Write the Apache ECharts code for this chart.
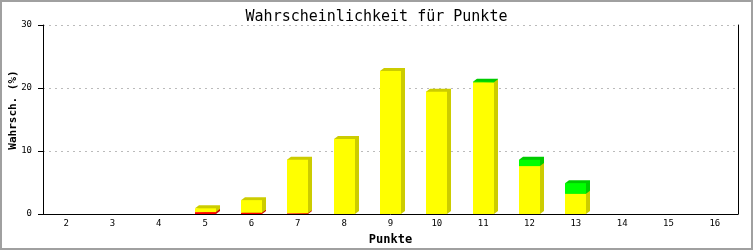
<!DOCTYPE html>
<html>
<head>
<meta charset="utf-8">
<script src="https://cdn.jsdelivr.net/npm/echarts@6/dist/echarts.min.js"></script>
<style>html,body{margin:0;padding:0;background:#fff}#c{width:753px;height:250px}</style>
</head>
<body>
<div id="c"></div>
<script>
const categories = ['2','3','4','5','6','7','8','9','10','11','12','13','14','15','16'];
const redValues    = [0, 0, 0, 0.3, 0.2, 0.1, 0, 0, 0, 0, 0, 0, 0, 0, 0];
const yellowValues = [0, 0, 0, 0.6, 2.0, 8.5, 11.9, 22.7, 19.4, 20.9, 7.6, 3.2, 0, 0, 0];
const greenValues  = [0, 0, 0, 0, 0, 0, 0, 0, 0, 0.1, 1.0, 1.7, 0, 0, 0];
const yTicks = [0, 10, 20, 30];

const layers = [
  {name: 'rot',  vals: redValues,    front: '#FF0000', shade: '#CC0000'},
  {name: 'gelb', vals: yellowValues, front: '#FFFF00', shade: '#CCCC00'},
  {name: 'grün', vals: greenValues,  front: '#00FF00', shade: '#00CC00'}
];

function makeRender(front, shade) {
  return function (params, api) {
    const i = api.value(0), base = api.value(1), v = api.value(2);
    if (!v) return null;
    const p0 = api.coord([i, base]);
    const p1 = api.coord([i, base + v]);
    const w = api.size([1, 0])[0] * 0.46;
    const x0 = Math.round(p0[0] - w / 2), x1 = x0 + Math.round(w);
    const yb = p0[1], yt = p1[1];
    const dx = 4, dy = 3;
    return {
      type: 'group',
      children: [
        {type: 'polygon', shape: {points: [[x0, yt], [x0 + dx, yt - dy], [x1 + dx, yt - dy], [x1 + dx, yb - dy], [x1, yb]]},
         style: {fill: shade}},
        {type: 'rect', shape: {x: x0, y: yt, width: x1 - x0, height: yb - yt}, style: {fill: front}}
      ]
    };
  };
}

const series = [];
layers.forEach((L, li) => {
  const data = categories.map((c, i) => {
    let base = 0;
    for (let k = 0; k < li; k++) base += layers[k].vals[i];
    return [i, base, L.vals[i]];
  });
  series.push({
    type: 'custom', name: L.name, renderItem: makeRender(L.front, L.shade),
    data: data, encode: {x: 0, y: [1, 2]}, z: 2 + li
  });
});

const mono = '"DejaVu Sans Mono", "Liberation Mono", monospace';
const chart = echarts.init(document.getElementById('c'), null, {renderer: 'canvas'});
chart.setOption({
  animation: false,
  backgroundColor: '#fff',
  title: {text: 'Wahrscheinlichkeit für Punkte', left: 'center', top: 5,
    textStyle: {fontFamily: mono, fontSize: 15, fontWeight: 'normal', color: '#000'}},
  grid: {left: 43, right: 15, top: 25, bottom: 36, containLabel: false, outerBoundsMode: 'none'},
  xAxis: {
    type: 'category', data: categories, boundaryGap: true,
    name: 'Punkte', nameLocation: 'middle', nameGap: 20,
    nameTextStyle: {fontFamily: mono, fontSize: 12, fontWeight: 'bold', color: '#000'},
    axisLine: {lineStyle: {color: '#000', width: 1}},
    axisTick: {show: false},
    axisLabel: {fontFamily: mono, fontSize: 9, color: '#000', margin: 5}
  },
  yAxis: [{
    type: 'value', min: yTicks[0], max: yTicks[yTicks.length - 1], interval: 10,
    axisLine: {show: true, lineStyle: {color: '#000', width: 1}},
    axisTick: {show: true, length: 5, lineStyle: {color: '#000'}},
    axisLabel: {fontFamily: mono, fontSize: 9, color: '#000', margin: 11},
    splitLine: {show: true, lineStyle: {color: '#bbbbbb', type: [2, 4], width: 1}}
  }, {
    type: 'value', min: 0, max: 30, interval: 10, position: 'right',
    axisLine: {show: true, lineStyle: {color: '#000', width: 1}},
    axisTick: {show: false}, axisLabel: {show: false}, splitLine: {show: false}
  }],
  graphic: [
    {type: 'text', x: 13, y: 110, rotation: Math.PI / 2,
     style: {text: 'Wahrsch. (%)', font: 'bold 11px ' + mono, fill: '#000', align: 'center', verticalAlign: 'middle'}},
    {type: 'rect', shape: {x: 1, y: 1, width: 751, height: 248},
     style: {fill: null, stroke: '#a0a0a0', lineWidth: 2}, z: 100}
  ],
  series: series
});
</script>
</body>
</html>
